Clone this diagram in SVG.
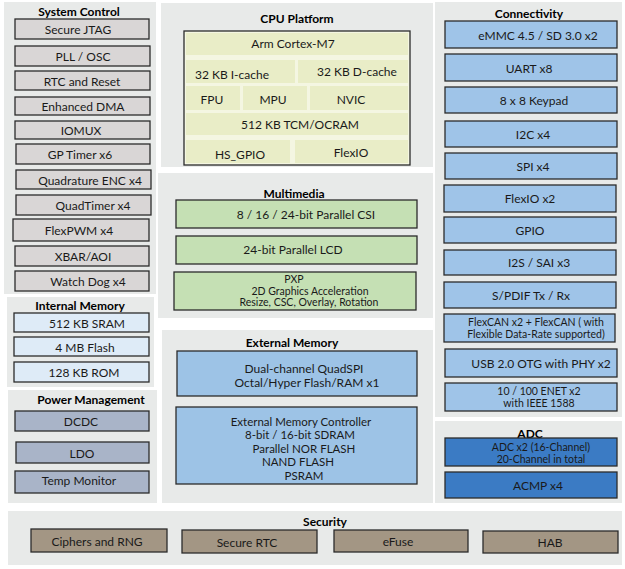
<svg xmlns="http://www.w3.org/2000/svg" width="625" height="569" viewBox="0 0 625 569">
<style>
text{font-family:Lato,"Liberation Sans",sans-serif;font-size:12px;fill:#1a1a1a;text-anchor:middle;dominant-baseline:central}
.s{font-size:10.5px}
.m{font-size:11.5px}
.t{font-weight:bold;fill:#000}
.panel{fill:#e8eae9;stroke:none}
.b{stroke:#2b2b2b;stroke-width:1.3}
.sys{fill:#d9d6d6}
.mem{fill:#deebf7}
.pwr{fill:#a9b4c8}
.mm{fill:#c5e0b4}
.ext{fill:#9dc3e6}
.con{fill:#9fc4e8}
.adc{fill:#3b7bc4}
.sec{fill:#a39684}
.cpu{fill:#f4f6e2}
.cell{fill:#e9edc7}
</style>
<rect width="625" height="569" fill="#ffffff"/>

<g id="system-control">
<rect class="panel" x="4" y="2" width="152" height="292"/>
<text class="t" x="79" y="11">System Control</text>
<rect class="b sys" x="15" y="19" width="134" height="20"/><text x="78" y="29.5">Secure JTAG</text>
<rect class="b sys" x="15" y="46" width="135" height="20"/><text x="83" y="56.5">PLL / OSC</text>
<rect class="b sys" x="15" y="71" width="135" height="19"/><text x="82" y="81">RTC and Reset</text>
<rect class="b sys" x="15" y="97" width="135" height="18"/><text x="83" y="106.5">Enhanced DMA</text>
<rect class="b sys" x="15" y="121" width="135" height="18"/><text x="81" y="130">IOMUX</text>
<rect class="b sys" x="16" y="144" width="134" height="20"/><text x="80" y="154.5">GP Timer x6</text>
<rect class="b sys" x="16" y="170" width="135" height="19"/><text x="90" y="180">Quadrature ENC x4</text>
<rect class="b sys" x="16" y="195" width="135" height="20"/><text x="93" y="205.5">QuadTimer x4</text>
<rect class="b sys" x="13" y="219" width="136" height="22"/><text x="79" y="230.5">FlexPWM x4</text>
<rect class="b sys" x="15" y="246" width="134" height="20"/><text x="83" y="256.5">XBAR/AOI</text>
<rect class="b sys" x="15" y="271" width="134" height="20"/><text x="88" y="281.5">Watch Dog x4</text>
</g>

<g id="internal-memory">
<rect class="panel" x="7" y="297" width="147" height="90"/>
<text class="t" x="80" y="305">Internal Memory</text>
<rect class="b mem" x="14" y="313" width="135" height="19"/><text x="87" y="323">512 KB SRAM</text>
<rect class="b mem" x="14" y="337" width="135" height="19"/><text x="85" y="347">4 MB Flash</text>
<rect class="b mem" x="14" y="362" width="135" height="20"/><text x="84" y="372.5">128 KB ROM</text>
</g>

<g id="power-management">
<rect class="panel" x="8" y="390" width="149" height="113"/>
<text class="t" x="91" y="399">Power Management</text>
<rect class="b pwr" x="15" y="411" width="134" height="20"/><text x="81" y="421.5">DCDC</text>
<rect class="b pwr" x="16" y="442" width="133" height="21"/><text x="82" y="453">LDO</text>
<rect class="b pwr" x="15" y="471" width="134" height="22"/><text x="79" y="480">Temp Monitor</text>
</g>

<g id="cpu-platform">
<rect class="panel" x="161" y="3" width="272" height="164"/>
<text class="t" x="297" y="18">CPU Platform</text>
<rect class="cpu" x="184" y="31" width="226" height="134" stroke="#2b2b2b" stroke-width="1.3"/>
<rect class="cell" x="186" y="33" width="222" height="22"/>
<rect class="cell" x="186" y="60" width="109" height="23"/>
<rect class="cell" x="298" y="60" width="110" height="23"/>
<rect class="cell" x="186" y="86" width="54" height="24"/>
<rect class="cell" x="243" y="86" width="64" height="24"/>
<rect class="cell" x="310" y="86" width="98" height="24"/>
<rect class="cell" x="186" y="113" width="222" height="22"/>
<rect class="cell" x="186" y="140" width="104" height="23"/>
<rect class="cell" x="295" y="140" width="113" height="23"/>
<text x="293" y="43">Arm Cortex-M7</text>
<text x="232" y="74">32 KB I-cache</text>
<text x="357" y="71">32 KB D-cache</text>
<text x="212" y="99">FPU</text>
<text x="273" y="99">MPU</text>
<text x="351" y="99">NVIC</text>
<text x="300" y="124">512 KB TCM/OCRAM</text>
<text x="240" y="154">HS_GPIO</text>
<text x="351" y="152">FlexIO</text>
</g>

<g id="multimedia">
<rect class="panel" x="158" y="173" width="275" height="145"/>
<text class="t" x="294" y="193">Multimedia</text>
<rect class="b mm" x="176" y="200" width="241" height="28"/><text x="306" y="214">8 / 16 / 24-bit Parallel CSI</text>
<rect class="b mm" x="176" y="236" width="241" height="28"/><text x="293" y="249">24-bit Parallel LCD</text>
<rect class="b mm" x="174" y="272" width="242" height="38"/>
<text class="s" x="294" y="279">PXP</text>
<text class="s" x="310" y="290.5">2D Graphics Acceleration</text>
<text class="s" x="309" y="302">Resize, CSC, Overlay, Rotation</text>
</g>

<g id="external-memory">
<rect class="panel" x="162" y="330" width="271" height="173"/>
<text class="t" x="292" y="342">External Memory</text>
<rect class="b ext" x="177" y="351" width="240" height="45"/>
<text x="304" y="368">Dual-channel QuadSPI</text>
<text x="307" y="382">Octal/Hyper Flash/RAM x1</text>
<rect class="b ext" x="176" y="407" width="241" height="77"/>
<text class="m" x="301" y="421">External Memory Controller</text>
<text class="m" x="300" y="434.5">8-bit / 16-bit SDRAM</text>
<text class="m" x="304" y="448">Parallel NOR FLASH</text>
<text class="m" x="298" y="461.5">NAND FLASH</text>
<text class="m" x="304" y="475">PSRAM</text>
</g>

<g id="connectivity">
<rect class="panel" x="435" y="2" width="187" height="415"/>
<text class="t" x="529" y="13">Connectivity</text>
<rect class="b con" x="445" y="21" width="172" height="27"/><text x="538" y="35">eMMC 4.5 / SD 3.0 x2</text>
<rect class="b con" x="445" y="54" width="172" height="27"/><text x="529" y="68">UART x8</text>
<rect class="b con" x="445" y="87" width="172" height="26"/><text x="534" y="100.5">8 x 8 Keypad</text>
<rect class="b con" x="445" y="121" width="172" height="26"/><text x="533" y="134">I2C x4</text>
<rect class="b con" x="445" y="153" width="172" height="26"/><text x="533" y="166">SPI x4</text>
<rect class="b con" x="444" y="185" width="172" height="27"/><text x="530" y="198.5">FlexIO x2</text>
<rect class="b con" x="444" y="217" width="172" height="26"/><text x="530" y="230">GPIO</text>
<rect class="b con" x="444" y="250" width="172" height="25"/><text x="539" y="262.5">I2S / SAI x3</text>
<rect class="b con" x="444" y="282" width="172" height="26"/><text x="531" y="295">S/PDIF Tx / Rx</text>
<rect class="b con" x="444" y="314" width="171" height="28"/>
<text class="s" x="536" y="322">FlexCAN x2  + FlexCAN ( with</text>
<text class="s" x="536" y="334">Flexible Data-Rate supported)</text>
<rect class="b con" x="445" y="349" width="172" height="28"/><text x="541" y="363">USB 2.0 OTG with PHY x2</text>
<rect class="b con" x="445" y="383" width="172" height="28"/>
<text class="s" x="539" y="391">10 / 100 ENET x2</text>
<text class="s" x="539" y="402.5">with IEEE 1588</text>
</g>

<g id="adc">
<rect class="panel" x="435" y="421" width="187" height="82"/>
<text class="t" x="530" y="433">ADC</text>
<rect class="b adc" x="445" y="438" width="172" height="28"/>
<text class="s" x="541" y="446.5">ADC x2 (16-Channel)</text>
<text class="s" x="541" y="458.5">20-Channel in total</text>
<rect class="b adc" x="445" y="472" width="172" height="26"/><text x="538" y="485">ACMP x4</text>
</g>

<g id="security">
<rect class="panel" x="8" y="511" width="614" height="54"/>
<text class="t" x="325" y="521">Security</text>
<rect class="b sec" x="31" y="529" width="136" height="23"/><text x="97" y="541">Ciphers and RNG</text>
<rect class="b sec" x="182" y="530" width="135" height="23"/><text x="247" y="542.5">Secure RTC</text>
<rect class="b sec" x="334" y="530" width="134" height="22"/><text x="398" y="541">eFuse</text>
<rect class="b sec" x="483" y="531" width="135" height="22"/><text x="550" y="542.5">HAB</text>
</g>

<g id="connectors"></g>
</svg>
